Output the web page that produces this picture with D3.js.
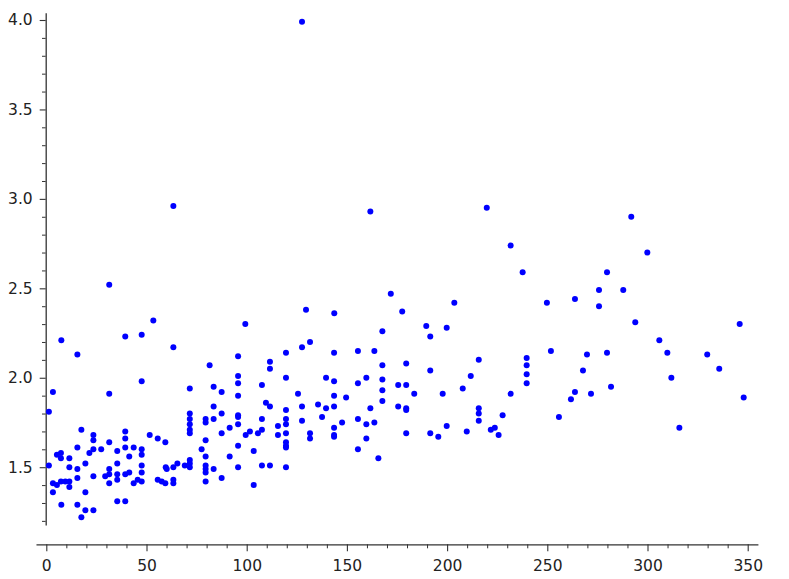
<!DOCTYPE html>
<html>
<head>
<meta charset="utf-8">
<script src="https://cdn.jsdelivr.net/npm/d3@7"></script>
<style>
  html, body { margin: 0; padding: 0; background: #fff; }
  svg { display: block; }
  .tick text { font-family: "DejaVu Sans", sans-serif; font-size: 15.5px; fill: #222; }
</style>
</head>
<body>
<svg id="chart" width="789" height="579"></svg>
<script>
// ---- data ----
const xValues = [
  7.5,39.4,47.6,63.4,15.5,47.6,3.3,31.4,71.6,1.3,
  71.6,71.6,71.6,71.6,71.6,
  17.5,23.5,23.5,39.4,39.4,51.6,55.6,59.4,31.4,
  15.5,23.5,21.5,27.4,35.4,39.4,43.6,47.6,47.6,41.4,
  5.3,7.3,7.3,11.5,19.5,1.3,11.5,15.5,31.4,31.4,
  35.4,47.6,47.6,59.6,60.1,63.4,65.4,69.1,71.6,71.6,71.6,
  23.5,15.5,29.4,35.4,35.4,39.4,41.4,47.6,45.6,43.6,
  55.6,57.6,59.4,63.4,63.4,7.3,9.5,11.5,3.3,5.3,
  11.5,3.3,19.5,31.4,7.5,15.5,19.5,23.5,17.5,35.4,39.4,
  81.5,95.7,95.7,95.7,95.7,95.7,95.7,95.7,95.7,95.7,
  83.5,87.5,83.5,87.5,83.5,79.5,79.5,87.5,91.5,79.5,
  77.5,79.5,79.5,79.5,79.5,83.5,79.5,87.5,91.5,
  99.5,101.6,103.5,103.5,105.6,107.6,107.6,107.6,109.6,111.6,
  111.6,111.6,107.6,111.6,115.6,115.6,119.6,119.6,
  119.6,119.6,119.6,119.6,119.6,119.6,119.6,119.6,
  125.6,127.6,127.6,131.6,127.6,131.6,131.6,135.6,137.6,
  139.6,139.6,143.6,143.6,143.6,143.6,143.6,143.6,143.6,
  147.6,149.6,155.5,155.5,155.5,155.5,
  167.7,191.6,199.8,163.7,167.7,179.6,191.6,215.8,211.8,
  159.7,167.7,175.6,179.6,167.7,183.6,197.8,207.8,231.7,
  167.7,161.7,175.6,179.6,179.6,159.7,163.7,215.8,215.8,215.8,
  227.7,199.8,159.7,179.6,191.6,195.6,209.8,221.8,223.8,225.7,165.7,
  305.9,251.8,239.7,239.7,239.7,239.7,269.8,279.8,309.9,329.8,
  267.8,335.8,311.9,281.8,263.8,261.8,271.8,348.0,255.8,315.9,
  63.4,31.4,53.4,99.3,161.7,219.8,231.7,171.9,129.6,143.7,
  177.6,203.6,189.6,291.9,299.9,237.7,279.8,275.8,287.9,263.8,
  249.8,275.8,293.9,346.0,127.6
];
const yValues = [
  2.21,2.23,2.24,2.17,2.13,1.98,1.92,1.91,1.94,1.81,
  1.80,1.77,1.74,1.71,1.69,
  1.71,1.68,1.65,1.70,1.66,1.68,1.66,1.64,1.64,
  1.61,1.60,1.58,1.60,1.59,1.61,1.61,1.60,1.57,1.56,
  1.57,1.58,1.55,1.55,1.52,1.51,1.50,1.49,1.49,1.46,
  1.52,1.51,1.47,1.50,1.49,1.50,1.52,1.51,1.54,1.52,1.50,
  1.45,1.44,1.45,1.46,1.43,1.46,1.47,1.42,1.43,1.41,
  1.43,1.42,1.41,1.43,1.41,1.42,1.42,1.42,1.41,1.40,
  1.39,1.36,1.36,1.41,1.29,1.29,1.26,1.26,1.22,1.31,1.31,
  2.07,2.12,2.01,1.97,1.90,1.79,1.78,1.74,1.62,1.50,
  1.95,1.92,1.84,1.80,1.77,1.77,1.75,1.69,1.72,1.65,
  1.60,1.56,1.51,1.49,1.47,1.49,1.42,1.44,1.56,
  1.68,1.70,1.59,1.40,1.69,1.71,1.77,1.96,1.86,1.84,
  2.09,2.05,1.51,1.51,1.73,1.68,2.14,2.00,
  1.82,1.77,1.74,1.69,1.64,1.62,1.61,1.50,
  1.91,1.84,2.17,2.20,1.76,1.69,1.66,1.85,1.78,
  2.00,1.83,2.14,1.98,1.90,1.84,1.72,1.68,1.67,
  1.75,1.89,2.15,1.97,1.77,1.60,
  2.26,2.23,2.28,2.15,2.07,2.08,2.04,2.10,2.01,
  2.00,1.99,1.96,1.96,1.93,1.91,1.91,1.94,1.91,
  1.87,1.83,1.84,1.83,1.82,1.74,1.75,1.83,1.80,1.76,
  1.79,1.73,1.66,1.69,1.69,1.67,1.70,1.71,1.72,1.68,1.55,
  2.21,2.15,2.11,2.07,2.02,1.97,2.13,2.14,2.14,2.13,
  2.04,2.05,2.00,1.95,1.92,1.88,1.91,1.89,1.78,1.72,
  2.96,2.52,2.32,2.30,2.93,2.95,2.74,2.47,2.38,2.36,
  2.37,2.42,2.29,2.90,2.70,2.59,2.59,2.49,2.49,2.44,
  2.42,2.40,2.31,2.30,3.99
];
const xTickValues = [0, 50, 100, 150, 200, 250, 300, 350];
const xTickLabels = ["0", "50", "100", "150", "200", "250", "300", "350"];
const yTickValues = [1.5, 2.0, 2.5, 3.0, 3.5, 4.0];
const yTickLabels = ["1.5", "2.0", "2.5", "3.0", "3.5", "4.0"];

const points = xValues.map((xv, i) => ({x: xv, y: yValues[i]}));

// ---- scales ----
const x = d3.scaleLinear().domain([0, 350]).range([46.3, 747.7]);
const y = d3.scaleLinear().domain([1.5, 4.0]).range([467.2, 20]);

const svg = d3.select("#chart");
const axisColor = "#333";

// x axis (line spans slightly past data range)
const xAxisScale = x.copy().domain([-5.15, 355.1]).range([x(-5.15), x(355.1)]);
const xAxisY = 544.3;
const xMinor = d3.range(0, 351, 10).filter(v => v % 50 !== 0);
svg.append("g")
  .attr("transform", `translate(0,${xAxisY})`)
  .call(d3.axisBottom(xAxisScale).tickValues(xMinor).tickSize(4).tickFormat(""))
  .call(g => g.select(".domain").remove())
  .call(g => g.selectAll(".tick line").attr("stroke", axisColor).attr("stroke-width", 1));
svg.append("g")
  .attr("transform", `translate(0,${xAxisY})`)
  .call(d3.axisBottom(xAxisScale).tickValues(xTickValues).tickSize(7).tickSizeOuter(0).tickPadding(9)
    .tickFormat((d, i) => xTickLabels[i]))
  .call(g => g.select(".domain").attr("stroke", axisColor).attr("stroke-width", 1.3))
  .call(g => g.selectAll(".tick line").attr("stroke", axisColor).attr("stroke-width", 1.1));

// y axis
const yAxisScale = y.copy().domain([1.177, 4.04]).range([y(1.177), y(4.04)]);
const yAxisX = 45.7;
const yMinor = d3.range(12, 41).map(v => v / 10).filter(v => Math.abs(v * 2 - Math.round(v * 2)) > 1e-6);
svg.append("g")
  .attr("transform", `translate(${yAxisX},0)`)
  .call(d3.axisLeft(yAxisScale).tickValues(yMinor).tickSize(3.7).tickFormat(""))
  .call(g => g.select(".domain").remove())
  .call(g => g.selectAll(".tick line").attr("stroke", axisColor).attr("stroke-width", 1));
svg.append("g")
  .attr("transform", `translate(${yAxisX},0)`)
  .call(d3.axisLeft(yAxisScale).tickValues(yTickValues).tickSize(6).tickSizeOuter(0).tickPadding(7)
    .tickFormat((d, i) => yTickLabels[i]))
  .call(g => g.select(".domain").attr("stroke", axisColor).attr("stroke-width", 1.3))
  .call(g => g.selectAll(".tick line").attr("stroke", axisColor).attr("stroke-width", 1.1));

// points
svg.append("g")
  .selectAll("circle")
  .data(points)
  .join("circle")
  .attr("cx", d => x(d.x))
  .attr("cy", d => y(d.y))
  .attr("r", 3)
  .attr("fill", "#0000ff");
</script>
</body>
</html>
